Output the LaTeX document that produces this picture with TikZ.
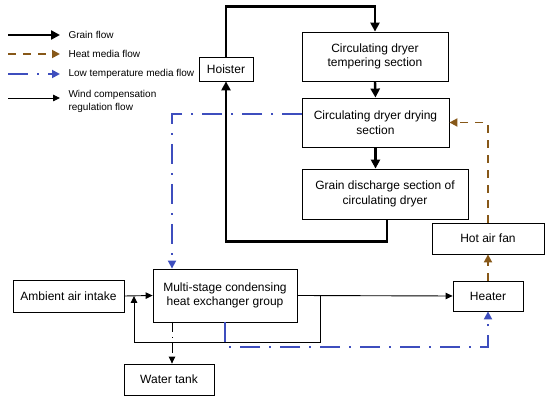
\documentclass[tikz,border=0pt]{standalone}
\usepackage{fontspec}
\setmainfont{Liberation Sans}
\usetikzlibrary{positioning, arrows.meta}
\definecolor{lowblue}{RGB}{62,78,190}
\definecolor{heatbrown}{RGB}{135,88,24}

\begin{document}
\begin{tikzpicture}[x=1pt,y=-1pt,
    box/.style={draw, line width=0.8pt, inner sep=0pt, align=center, font=\fontsize{12}{14.5}\selectfont},
    grain/.style={line width=2.4pt, -{Stealth[length=9pt, width=9pt, inset=0pt]}},
    heat/.style={heatbrown, line width=1.8pt, dash pattern=on 8pt off 7pt, -{Stealth[length=8pt, width=8pt, inset=0pt]}},
    lowtemp/.style={lowblue, line width=1.8pt, dash pattern=on 20pt off 9pt on 2pt off 9pt, -{Stealth[length=8pt, width=8pt, inset=0pt]}},
    wind/.style={line width=0.9pt, -{Stealth[length=7pt, width=6.5pt, inset=0pt]}},
    drainline/.style={line width=0.9pt, dash pattern=on 10pt off 5pt on 1.5pt off 5pt, -{Stealth[length=7pt, width=6.5pt, inset=0pt]}},
    legend/.style={anchor=west, align=left, font=\fontsize{10}{13}\selectfont}]
  \useasboundingbox (0,0) rectangle (550,403);

  % legend
  \draw[grain] (8,35) -- (60,35);
  \node[legend] (lgrain) at (65,35) {Grain flow};
  \draw[heat] (8,54) -- (60,54);
  \node[legend] (lheat) at (65,54) {Heat media flow};
  \draw[lowtemp] (8,74) -- (60,74);
  \node[legend] (llow) at (65,74) {Low temperature media flow};
  \draw[wind] (8,98) -- (60,98);
  \node[legend] (lwind) at (65,101) {Wind compensation\\regulation flow};

  % boxes
  \node[box, minimum width=54pt, minimum height=24pt] (hoister) at (226,69) {Hoister};
  \node[box, minimum width=146pt, minimum height=49pt] (temper) at (375,56.5)
    {Circulating dryer\\tempering section};
  \node[box, minimum width=147pt, minimum height=49pt] (drying) at (375.5,122.5)
    {Circulating dryer drying\\section};
  \node[box, minimum width=166pt, minimum height=50pt] (discharge) at (385,194)
    {Grain discharge section of\\circulating dryer};
  \node[box, minimum width=112pt, minimum height=31pt] (fan) at (488,238.5) {Hot air fan};
  \node[box, minimum width=70pt, minimum height=30pt] (heater) at (488,296) {Heater};
  \node[box, minimum width=144pt, minimum height=53pt] (exchanger) at (225,295.5)
    {Multi-stage condensing\\heat exchanger group};
  \node[box, minimum width=111pt, minimum height=32pt] (ambient) at (68.5,296) {Ambient air intake};
  \node[box, minimum width=90pt, minimum height=31pt] (tank) at (169,379.5) {Water tank};

  \coordinate (coldin) at (302,114);
  \coordinate (drain) at (172,322);
  \coordinate (split) at (320,296);
  \coordinate (merge) at (134,296);

  % grain flow
  \draw[grain] (hoister.north) -- ++(0,-50) -| (temper.north);
  \draw[grain] (temper.south) -- (drying.north);
  \draw[grain] (drying.south) -- (drying.south |- discharge.north);
  \draw[grain] ([xshift=2pt]discharge.south) -- ++(0,22) -| (hoister.south);

  % heat media flow
  \draw[heat] (heater.north) -- (fan.south);
  \draw[heat] (fan.north) |- (drying.east);

  % low temperature media flow
  \draw[lowtemp] (coldin) -| (drain |- exchanger.north);
  \draw[lowtemp] (exchanger.south) -- ++(0,25) -| (heater.south);

  % air and water
  \draw[wind] (ambient.east) -- (exchanger.west);
  \draw[wind] (exchanger.east) -- (heater.west);
  \draw[wind] (split) -- ++(0,46) -| (merge);
  \draw[drainline] (drain) -- (drain |- tank.north);
\end{tikzpicture}
\end{document}
